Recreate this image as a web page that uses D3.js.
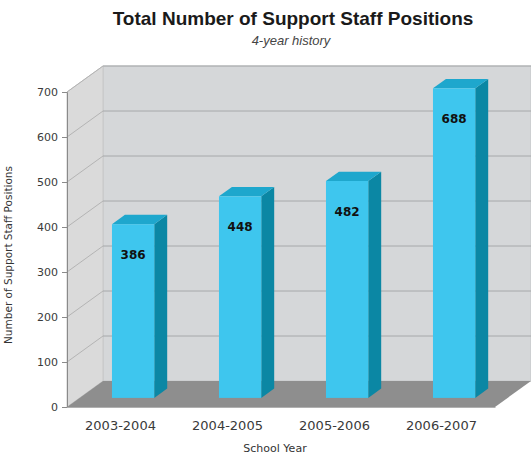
<!DOCTYPE html>
<html>
<head>
<meta charset="utf-8">
<script src="https://cdn.jsdelivr.net/npm/d3@7"></script>
<style>
  html, body { margin: 0; padding: 0; background: #fff; }
  svg { display: block; }
</style>
</head>
<body>
<svg id="chart" width="531" height="455"></svg>
<script>
// Chart data
const schoolYears = ["2003-2004", "2004-2005", "2005-2006", "2006-2007"];
const staffPositions = [386, 448, 482, 688];
const yTicks = [0, 100, 200, 300, 400, 500, 600, 700];

const svg = d3.select("#chart");

// Front plane of the 3-D box and its depth vector
const left = 67, right = 495, floorY = 407, topY = 92;
const depth = { dx: 36, dy: -26 };
const barDepthStart = 0.35, barDepthSize = 0.36;

const x = d3.scaleBand().domain(schoolYears).range([left, right]).padding(0);
const y = d3.scaleLinear().domain([0, 700]).range([floorY, topY]);
const barW = x.bandwidth() * 0.395;

const pts = a => a.map(p => p.join(",")).join(" ");

// Back wall
svg.append("polygon")
  .attr("points", pts([
    [left + depth.dx, y(0) + depth.dy], [right + depth.dx, y(0) + depth.dy],
    [right + depth.dx, y(700) + depth.dy], [left + depth.dx, y(700) + depth.dy]]))
  .attr("fill", "#d5d7d9").attr("stroke", "#c4c6c8").attr("stroke-width", 1);

// Left wall
svg.append("polygon")
  .attr("points", pts([
    [left, y(0)], [left + depth.dx, y(0) + depth.dy],
    [left + depth.dx, y(700) + depth.dy], [left, y(700)]]))
  .attr("fill", "#dadada").attr("stroke", "#c8c8c8").attr("stroke-width", 1);

// Gridlines on both walls
const grid = svg.append("g").attr("stroke", "#a6a8aa").attr("stroke-width", 1).attr("fill", "none");
yTicks.filter(v => v > 0).forEach(v => {
  grid.append("line")
    .attr("x1", left + depth.dx).attr("x2", right + depth.dx)
    .attr("y1", y(v) + depth.dy).attr("y2", y(v) + depth.dy);
  grid.append("line")
    .attr("x1", left).attr("y1", y(v))
    .attr("x2", left + depth.dx).attr("y2", y(v) + depth.dy)
    .attr("stroke", "#b4b4b4");
});

// Floor
svg.append("polygon")
  .attr("points", pts([
    [left, y(0)], [right, y(0)],
    [right + depth.dx, y(0) + depth.dy], [left + depth.dx, y(0) + depth.dy]]))
  .attr("fill", "#8e8e8e");

// Bars
const bars = svg.append("g");
schoolYears.forEach((yr, i) => {
  const v = staffPositions[i];
  const ox = depth.dx * barDepthStart, oy = depth.dy * barDepthStart;
  const bdx = depth.dx * barDepthSize, bdy = depth.dy * barDepthSize;
  const x0 = x(yr) + (x.bandwidth() - barW) / 2 + ox;
  const x1 = x0 + barW;
  const yb = y(0) + oy, yt = y(v) + oy;
  // side face
  bars.append("polygon")
    .attr("points", pts([[x1, yb], [x1 + bdx, yb + bdy], [x1 + bdx, yt + bdy], [x1, yt]]))
    .attr("fill", "#0b87a4");
  // top face
  bars.append("polygon")
    .attr("points", pts([[x0, yt], [x1, yt], [x1 + bdx, yt + bdy], [x0 + bdx, yt + bdy]]))
    .attr("fill", "#1ea7cd");
  // front face
  bars.append("rect")
    .attr("x", x0).attr("y", yt).attr("width", barW).attr("height", yb - yt)
    .attr("fill", "#3ec6ee");
  // value label
  bars.append("text")
    .attr("x", x0 + barW / 2).attr("y", yt + 35)
    .attr("text-anchor", "middle")
    .attr("font-family", "DejaVu Sans, Verdana, sans-serif")
    .attr("font-weight", "bold").attr("font-size", "12px")
    .attr("fill", "#111")
    .text(v);
});

// Y axis
const yAxis = svg.append("g")
  .attr("transform", `translate(${left},0)`)
  .call(d3.axisLeft(y).tickValues(yTicks).tickSize(5).tickPadding(4).tickFormat(d3.format("d")));
yAxis.select(".domain").attr("stroke", "#8a8a8a");
yAxis.selectAll(".tick line").attr("stroke", "#8a8a8a");
yAxis.selectAll(".tick text")
  .attr("font-family", "DejaVu Sans, Verdana, sans-serif")
  .attr("font-size", "11px").attr("fill", "#3a3a3a");

// X axis
const xAxis = svg.append("g")
  .attr("transform", `translate(0,${floorY})`)
  .call(d3.axisBottom(x).tickSize(0).tickPadding(14));
xAxis.select(".domain").attr("stroke", "#b0b0b0");
xAxis.selectAll(".tick text")
  .attr("font-family", "DejaVu Sans, Verdana, sans-serif")
  .attr("font-size", "13px").attr("fill", "#3a3a3a");

// Titles
svg.append("text")
  .attr("x", 293).attr("y", 25).attr("text-anchor", "middle")
  .attr("font-family", "Liberation Sans, Arial, sans-serif")
  .attr("font-weight", "bold").attr("font-size", "19px").attr("fill", "#1a1a1a")
  .text("Total Number of Support Staff Positions");
svg.append("text")
  .attr("x", 291).attr("y", 45).attr("text-anchor", "middle")
  .attr("font-family", "Liberation Sans, Arial, sans-serif")
  .attr("font-style", "italic").attr("font-size", "13px").attr("fill", "#444")
  .text("4-year history");

svg.append("text")
  .attr("x", 275).attr("y", 452).attr("text-anchor", "middle")
  .attr("font-family", "DejaVu Sans, Verdana, sans-serif")
  .attr("font-size", "11px").attr("fill", "#333")
  .text("School Year");

svg.append("text")
  .attr("transform", "translate(12,255) rotate(-90)")
  .attr("text-anchor", "middle")
  .attr("font-family", "DejaVu Sans, Verdana, sans-serif")
  .attr("font-size", "10.5px").attr("fill", "#333")
  .text("Number of Support Staff Positions");
</script>
</body>
</html>
